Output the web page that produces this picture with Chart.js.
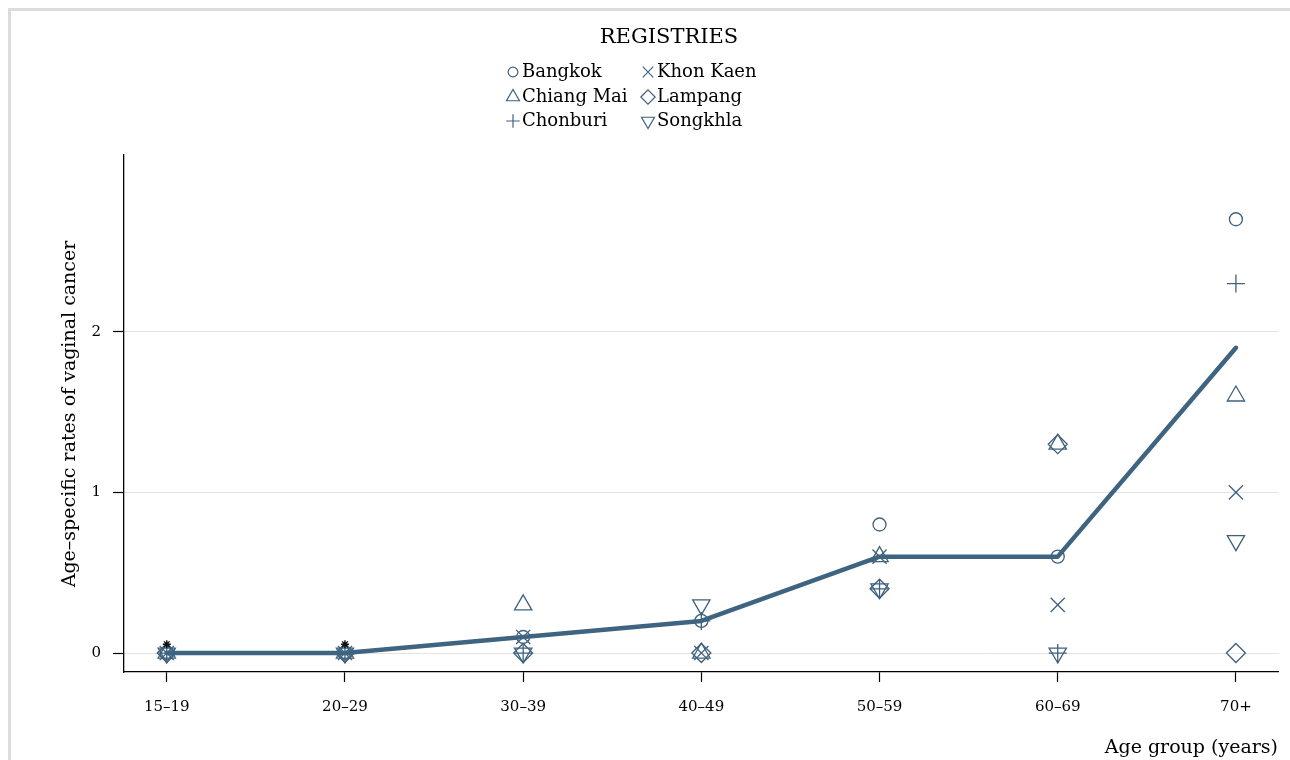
<!DOCTYPE html>
<html>
<head>
<meta charset="utf-8">
<title>Age-specific rates of vaginal cancer</title>
<script src="https://cdn.jsdelivr.net/npm/chart.js"></script>
<style>
  body { margin: 0; background: #fff; overflow: hidden; }
  canvas { display: block; }
</style>
</head>
<body>
<canvas id="chart" width="1290" height="760"></canvas>
<script>
const ageGroups = ['15–19', '20–29', '30–39', '40–49', '50–59', '60–69', '70+'];
const bangkok   = [0, 0, 0.1, 0.2, 0.8, 0.6, 2.7];
const chiangMai = [0, 0, 0.3, 0, 0.6, 1.3, 1.6];
const chonburi  = [0, 0, 0, 0.2, 0.4, 0, 2.3];
const khonKaen  = [0, 0, 0.1, 0, 0.6, 0.3, 1.0];
const lampang   = [0, 0, 0, 0, 0.4, 1.3, 0];
const songkhla  = [0, 0, 0, 0.3, 0.4, 0, 0.7];
const allThailand = [0, 0, 0.1, 0.2, 0.6, 0.6, 1.9];
const starMarks = [0.055, 0.055];
const yTickValues = [0, 1, 2];

const MARK = '#3f617d';
const LINE = '#3e6482';
const FONT = "'DejaVu Serif', serif";

const pts = arr => arr.map((v, i) => ({ x: i, y: v }));

function markerSet(label, data, style, radius, rotation) {
  return {
    type: 'scatter', label, data: pts(data),
    pointStyle: style, pointRadius: radius, pointRotation: rotation || 0,
    pointBorderColor: MARK, pointBackgroundColor: 'rgba(0,0,0,0)',
    pointBorderWidth: 1.3, showLine: false, order: 2
  };
}

const registries = [
  markerSet('Bangkok', bangkok, 'circle', 6.5),
  markerSet('Chiang Mai', chiangMai, 'triangle', 10),
  markerSet('Chonburi', chonburi, 'cross', 9),
  markerSet('Khon Kaen', khonKaen, 'crossRot', 10),
  markerSet('Lampang', lampang, 'rectRot', 9.5),
  markerSet('Songkhla', songkhla, 'triangle', 10, 180)
];

// grey graph-region frame
const frame = {
  id: 'frame',
  beforeDraw(chart) {
    const ctx = chart.ctx;
    ctx.save();
    ctx.strokeStyle = '#dcdcdc';
    ctx.lineWidth = 3;
    ctx.beginPath();
    ctx.moveTo(9.5, 760);
    ctx.lineTo(9.5, 9.5);
    ctx.lineTo(1290, 9.5);
    ctx.stroke();
    ctx.restore();
  }
};

// legend, axis titles
const decor = {
  id: 'decor',
  afterDraw(chart) {
    const ctx = chart.ctx;
    ctx.save();
    ctx.fillStyle = '#000';
    ctx.textBaseline = 'middle';
    ctx.font = '21px ' + FONT;
    ctx.textAlign = 'center';
    ctx.fillText('REGISTRIES', 669, 38);

    ctx.font = '18px ' + FONT;
    const cols = [513, 648], rows = [72, 97, 121];
    registries.forEach((ds, i) => {
      const cx = cols[Math.floor(i / 3)], cy = rows[i % 3];
      ctx.strokeStyle = MARK;
      ctx.fillStyle = 'rgba(0,0,0,0)';
      ctx.lineWidth = 1.2;
      Chart.helpers.drawPoint(ctx, {
        pointStyle: ds.pointStyle, rotation: ds.pointRotation,
        radius: ds.pointRadius * 0.75, borderWidth: 1.2
      }, cx, cy);
      ctx.fillStyle = '#000';
      ctx.textAlign = 'left';
      ctx.fillText(ds.label, cx + 9, cy);
    });

    ctx.font = '19px ' + FONT;
    ctx.textAlign = 'right';
    ctx.fillText('Age group (years)', 1278, 748);

    ctx.translate(70, 414);
    ctx.rotate(-Math.PI / 2);
    ctx.textAlign = 'center';
    ctx.fillText('Age–specific rates of vaginal cancer', 0, 0);
    ctx.restore();
  }
};

new Chart(document.getElementById('chart'), {
  type: 'scatter',
  data: {
    datasets: [
      {
        type: 'line', label: 'Thailand', data: pts(allThailand),
        borderColor: LINE, borderWidth: 4.5, pointRadius: 0,
        borderJoinStyle: 'round', borderCapStyle: 'round', order: 1
      },
      ...registries,
      {
        type: 'scatter', label: 'note', data: pts(starMarks),
        pointStyle: 'star', pointRadius: 4, pointBorderColor: '#111',
        pointBorderWidth: 1.4, order: 0
      }
    ]
  },
  options: {
    responsive: false,
    animation: false,
    devicePixelRatio: 1,
    layout: { padding: { top: 155, right: 10, left: 0, bottom: 0 } },
    plugins: { legend: { display: false }, tooltip: { enabled: false } },
    scales: {
      x: {
        type: 'linear', min: -0.24, max: 6.24,
        afterBuildTicks: s => { s.ticks = ageGroups.map((_, i) => ({ value: i })); },
        afterFit: s => { s.height = 88; },
        ticks: {
          callback: v => ageGroups[v], color: '#000', padding: 16,
          font: { family: FONT, size: 15 }, maxRotation: 0, autoSkip: false
        },
        grid: { drawOnChartArea: false, tickLength: 10, tickColor: '#000', tickWidth: 1.2 },
        border: { color: '#000', width: 1.3 }
      },
      y: {
        type: 'linear', min: -0.118, max: 3.1,
        afterBuildTicks: s => { s.ticks = yTickValues.map(v => ({ value: v })); },
        afterFit: s => { s.width = 124; },
        ticks: { color: '#000', padding: 12, font: { family: FONT, size: 15 } },
        grid: { color: '#e3e3e3', lineWidth: 1, tickLength: 11, tickColor: '#000', tickWidth: 1.2 },
        border: { color: '#000', width: 1.3 }
      }
    }
  },
  plugins: [frame, decor]
});
</script>
</body>
</html>
